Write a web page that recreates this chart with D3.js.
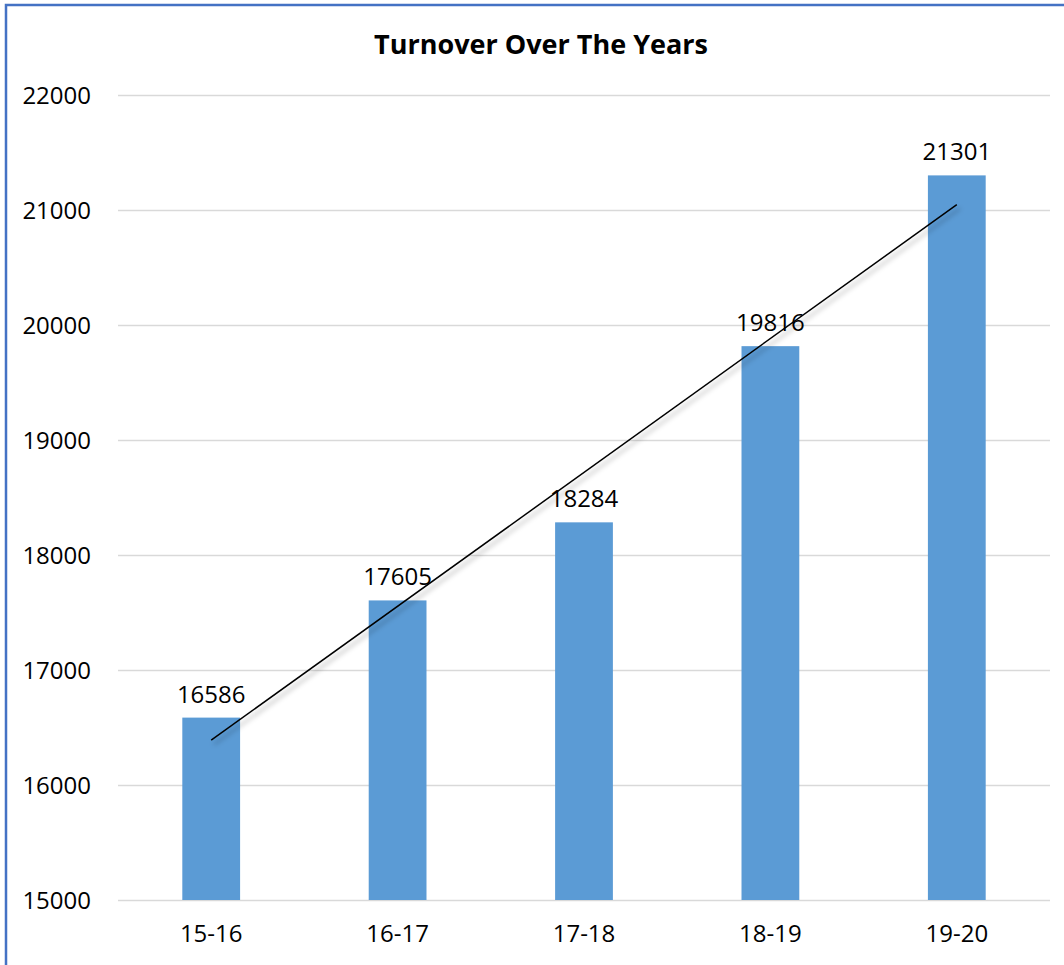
<!DOCTYPE html>
<html>
  <head>
    <title>Turnover Over The Years</title>
    <style>
    body {
        margin: 0px;
        overflow: hidden;
        background: white;
    }

    text {
        font-family: 'Open Sans', 'Noto Sans', sans-serif;
        fill: black;
    }

    .tick line {
        stroke: #d9d9d9;
        stroke-width: 1.5;
    }

    .tick text {
        font-size: 24px;
    }
    </style>
    <script src="https://d3js.org/d3.v7.min.js"></script>
  </head>
  <body>
    <svg width="1064" height="965"></svg>

    <script>
        // data
        const years = ['15-16', '16-17', '17-18', '18-19', '19-20'];
        const turnover = [16586, 17605, 18284, 19816, 21301];
        const yTicks = [15000, 16000, 17000, 18000, 19000, 20000, 21000, 22000];

        const svg = d3.select('svg');
        const width = +svg.attr('width');
        const height = +svg.attr('height');

        const margin = { top: 95, right: 14, bottom: 65, left: 118 };
        const innerWidth = width - margin.left - margin.right;
        const innerHeight = height - margin.top - margin.bottom;

        // frame (only left and top edges visible)
        svg.append('path')
            .attr('d', `M6,${height} V5 H${width}`)
            .attr('fill', 'none')
            .attr('stroke', '#4472c4')
            .attr('stroke-width', 2.5);

        // shadow for the trend line
        const defs = svg.append('defs');
        const filter = defs.append('filter')
            .attr('id', 'shadow')
            .attr('x', '-20%').attr('y', '-20%')
            .attr('width', '140%').attr('height', '140%');
        filter.append('feDropShadow')
            .attr('dx', 3).attr('dy', 4)
            .attr('stdDeviation', 2.5)
            .attr('flood-color', '#000')
            .attr('flood-opacity', 0.35);

        svg.append('text')
            .attr('x', 541)
            .attr('y', 54)
            .attr('text-anchor', 'middle')
            .attr('font-size', '27px')
            .attr('font-weight', 'bold')
            .text('Turnover Over The Years');

        const g = svg.append('g')
            .attr('transform', `translate(${margin.left},${margin.top})`);

        const xScale = d3.scaleBand()
            .domain(years)
            .range([0, innerWidth])
            .paddingInner(0.69)
            .paddingOuter(0.345);

        const yScale = d3.scaleLinear()
            .domain([15000, 22000])
            .range([innerHeight, 0]);

        const yAxis = d3.axisLeft(yScale)
            .tickValues(yTicks)
            .tickFormat(d3.format('d'))
            .tickSize(-innerWidth)
            .tickPadding(27);

        const yAxisG = g.append('g').call(yAxis);
        yAxisG.select('.domain').remove();
        yAxisG.selectAll('.tick text').attr('dy', '0.35em');

        const xAxis = d3.axisBottom(xScale)
            .tickSize(0)
            .tickPadding(25);

        const xAxisG = g.append('g')
            .attr('transform', `translate(0,${innerHeight})`)
            .call(xAxis);
        xAxisG.select('.domain').remove();
        xAxisG.selectAll('.tick text').attr('dy', '0.71em');

        // bars
        g.selectAll('rect.bar').data(turnover)
            .enter().append('rect')
            .attr('class', 'bar')
            .attr('x', (d, i) => xScale(years[i]))
            .attr('y', d => yScale(d))
            .attr('width', xScale.bandwidth())
            .attr('height', d => innerHeight - yScale(d))
            .attr('fill', '#5b9bd5');

        // value labels
        g.selectAll('text.label').data(turnover)
            .enter().append('text')
            .attr('class', 'label')
            .attr('x', (d, i) => xScale(years[i]) + xScale.bandwidth() / 2)
            .attr('y', d => yScale(d) - 15)
            .attr('text-anchor', 'middle')
            .attr('font-size', '24px')
            .text(d => d);

        // linear trend line (least squares)
        const xs = turnover.map((d, i) => i + 1);
        const xMean = d3.mean(xs);
        const yMean = d3.mean(turnover);
        const slope = d3.sum(xs, (x, i) => (x - xMean) * (turnover[i] - yMean)) /
            d3.sum(xs, x => (x - xMean) * (x - xMean));
        const intercept = yMean - slope * xMean;
        const cx = i => xScale(years[i]) + xScale.bandwidth() / 2;

        g.append('line')
            .attr('x1', cx(0))
            .attr('y1', yScale(intercept + slope * 1))
            .attr('x2', cx(years.length - 1))
            .attr('y2', yScale(intercept + slope * years.length))
            .attr('stroke', 'black')
            .attr('stroke-width', 1.5)
            .attr('filter', 'url(#shadow)');
    </script>
  </body>
</html>
